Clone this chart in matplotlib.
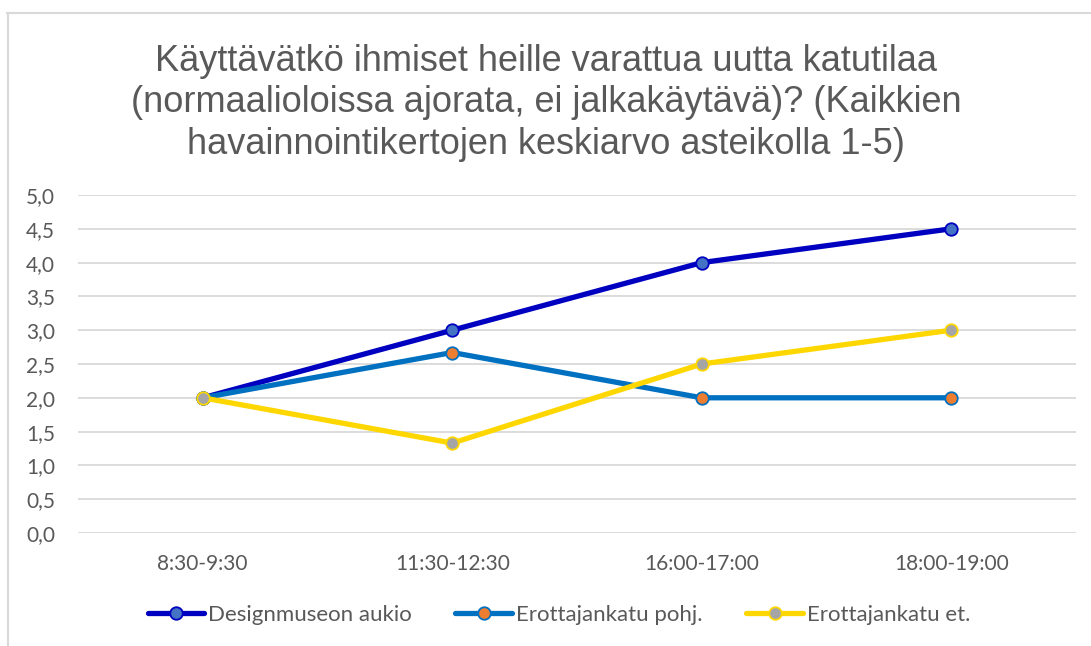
import matplotlib
matplotlib.use("Agg")
import matplotlib.pyplot as plt
from matplotlib.lines import Line2D

categories = ["8:30-9:30", "11:30-12:30", "16:00-17:00", "18:00-19:00"]
series_names = ["Designmuseon aukio", "Erottajankatu pohj.", "Erottajankatu et."]
designmuseo = [2.0, 3.0, 4.0, 4.5]
erottaja_pohj = [2.0, 2.67, 2.0, 2.0]
erottaja_et = [2.0, 1.33, 2.5, 3.0]
yticks = [0.0, 0.5, 1.0, 1.5, 2.0, 2.5, 3.0, 3.5, 4.0, 4.5, 5.0]
title = ("Käyttävätkö ihmiset heille varattua uutta katutilaa\n"
         "(normaalioloissa ajorata, ei jalkakäytävä)? (Kaikkien\n"
         "havainnointikertojen keskiarvo asteikolla 1-5)")

line_colors = ["#0000C0", "#0070C0", "#FFD700"]
face_colors = ["#4472C4", "#ED7D31", "#A5A5A5"]

fig = plt.figure(figsize=(10.91, 6.46), dpi=100)
ax = fig.add_axes([78/1091, 1-533/646, (1076-78)/1091, (533-195)/646])

x = list(range(len(categories)))
for vals, name, lc, fc in zip([designmuseo, erottaja_pohj, erottaja_et], series_names, line_colors, face_colors):
    ax.plot(x, vals, color=lc, lw=3.8, marker="o", markersize=9,
            markerfacecolor=fc, markeredgecolor=lc, markeredgewidth=1.3,
            label=name, zorder=3, solid_capstyle="round")

ax.set_xlim(-0.5, 3.5)
ax.set_ylim(0, 5)
ax.set_yticks(yticks)
ax.set_yticklabels([f"{v:.1f}".replace(".", ",") for v in yticks])
ax.set_xticks(x)
ax.set_xticklabels(categories)
ax.grid(axis="y", color="#D9D9D9", lw=1.3, zorder=0)
ax.set_axisbelow(True)
for s in ax.spines.values():
    s.set_visible(False)
ax.tick_params(length=0, labelsize=15, labelcolor="#595959")
ax.tick_params(axis="x", pad=15)
ax.tick_params(axis="y", pad=16.5)
for lab in ax.get_xticklabels() + ax.get_yticklabels():
    lab.set_fontfamily("Lato")

fig.text(546/1091, 1-103/646, title, ha="center", va="center",
         fontsize=26, color="#595959", family="Liberation Sans", linespacing=1.24)

leg = fig.legend(loc="center", bbox_to_anchor=(559/1091, 1-615/646), ncol=3,
                 frameon=False, handlelength=2.56, handletextpad=0.18,
                 columnspacing=1.95, prop={"family": "Lato", "size": 16})
for t in leg.get_texts():
    t.set_color("#595959")

# chart frame edges
fig.add_artist(Line2D([7/1091, 1.0], [1-12.5/646]*2, color="#D9D9D9", lw=1.5))
fig.add_artist(Line2D([7.5/1091]*2, [0, 1-12.5/646], color="#D9D9D9", lw=1.5))

fig.savefig("out.png", dpi=100)
